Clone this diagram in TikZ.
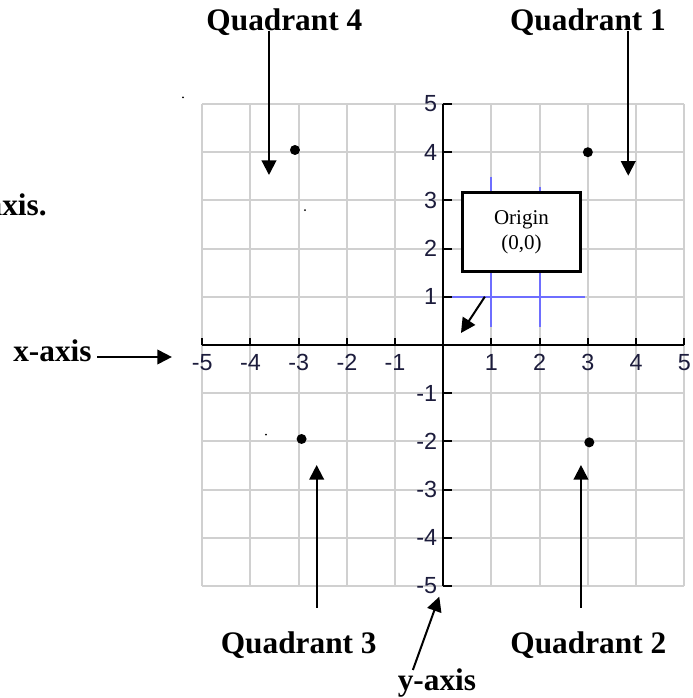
\documentclass[tikz,border=0pt]{standalone}
\usepackage{fontspec}
\setmainfont{Liberation Serif}
\newfontfamily\arialfont{Liberation Sans}
\usetikzlibrary{positioning,arrows.meta,calc}
\definecolor{GridGrey}{RGB}{208,208,208}
\definecolor{GuideBlue}{RGB}{110,110,255}
\definecolor{NumInk}{RGB}{28,28,60}
\tikzset{
  flow/.style={-{Triangle[length=11pt,width=11pt]},line width=1.5pt,draw=black},
  gridline/.style={draw=GridGrey,line width=1.5pt},
  guideline/.style={draw=GuideBlue,line width=1.5pt},
  axisline/.style={draw=black,line width=1.5pt},
  numlabel/.style={font=\arialfont\fontsize{17.5}{20}\selectfont,text=NumInk,inner sep=0pt},
  quadlabel/.style={font=\fontsize{23.5}{28}\selectfont\bfseries,inner sep=4pt},
  originbox/.style={draw=black,fill=white,line width=2pt,align=center,
    minimum width=88.5pt,minimum height=59.5pt,
    font=\fontsize{15.75}{18.75}\selectfont},
  dot/.style={fill=black,circle,inner sep=0pt,minimum size=7.5pt},
  speck/.style={fill=black,circle,inner sep=0pt,minimum size=1.5pt}
}

\begin{document}
\begin{tikzpicture}[x=36.15pt,y=36.15pt]
  \clip (-9.197,-7.324) rectangle (5.180,7.158);

  % grid
  \foreach \k in {-5,...,5} {
    \draw[gridline] (\k,-5) -- (\k,5);
    \draw[gridline] (-5,\k) -- (5,\k);
  }
  \draw[guideline] (0,1) -- (2.94,1);
  \draw[guideline] (1,3.49) -- (1,0.37);
  \draw[guideline] (2,3.28) -- (2,0.37);

  % axes and ticks
  \draw[axisline] (-5,0) -- (5,0);
  \draw[axisline] (0,5) -- (0,-5);
  \foreach \k in {-5,...,5} {
    \draw[axisline] (\k,0) -- (\k,0.15);
    \draw[axisline] (0,\k) -- (0.18,\k);
  }
  \foreach \k in {-5,-4,-3,-2,-1,1,2,3,4,5} {
    \node[numlabel] (xnum\k) at (\k,-0.37) {\k};
    \node[numlabel,anchor=east] (ynum\k) at (-0.12,\k) {\k};
  }

  % points
  \node[dot] (p4) at (-3.077,4.046) {};
  \node[dot] (p1) at (3,4) {};
  \node[dot] (p3) at (-2.94,-1.95) {};
  \node[dot] (p2) at (3.03,-2.02) {};
  \node[speck] (s1) at (-5.40,5.14) {};
  \node[speck] (s2) at (-2.869,2.80) {};
  \node[speck] (s3) at (-3.68,-1.86) {};

  % origin callout
  \node[originbox] (origin) at (1.622,2.344) {Origin\\(0,0)};
  \coordinate (otail) at (0.863,1.002);
  \coordinate (otip) at (0.367,0.249);
  \draw[flow] (otail) -- (otip);

  % labels
  \node[quadlabel,anchor=base] (q4) at (-3.297,6.515) {Quadrant 4};
  \node[quadlabel,anchor=base] (q1) at (3.002,6.515) {Quadrant 1};
  \node[quadlabel,anchor=base] (q3) at (-2.998,-6.41) {Quadrant 3};
  \node[quadlabel,anchor=base] (q2) at (3.01,-6.41) {Quadrant 2};
  \node[quadlabel,anchor=base] (xlab) at (-8.108,-0.346) {x-axis};
  \node[quadlabel,anchor=base] (ylab) at (-0.131,-7.158) {y-axis};
  \node[quadlabel,anchor=base east,inner sep=0pt] (axisnote) at (-8.222,2.697) {axis.};

  \coordinate (q4tip) at (-3.616,3.527);
  \coordinate (q1tip) at (3.838,3.512);
  \coordinate (q3tip) at (-2.627,-2.49);
  \coordinate (q2tip) at (2.857,-2.49);
  \coordinate (xtip) at (-5.63,-0.249);
  \coordinate (ytip) at (-0.083,-5.222);

  \draw[flow] (q4tip |- q4.base) -- (q4tip);
  \draw[flow] (q1tip |- q1.base) -- (q1tip);
  \draw[flow] ($(q3tip |- q3.base)+(0,0.954)$) -- (q3tip);
  \draw[flow] ($(q2tip |- q2.base)+(0,0.954)$) -- (q2tip);
  \draw[flow] (xlab.east |- xtip) -- (xtip);
  \draw[flow] ($(ylab.base)+(-0.5,0.415)$) -- (ytip);
\end{tikzpicture}
\end{document}
